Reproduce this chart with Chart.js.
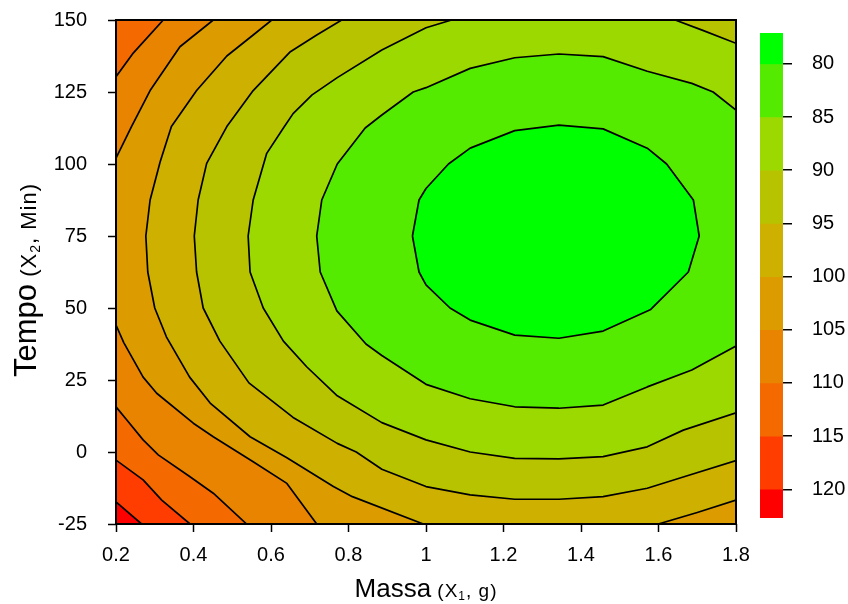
<!DOCTYPE html>
<html><head><meta charset="utf-8">
<script src="https://cdn.jsdelivr.net/npm/chart.js@4.4.1/dist/chart.umd.min.js"></script>
<style>
html,body{margin:0;padding:0;background:#fff;}
#wrap{position:relative;width:848px;height:604px;}
canvas{position:absolute;top:0;}
</style>
</head><body>
<div id="wrap">
<canvas id="main" width="848" height="604" style="left:0"></canvas>
<canvas id="cbar" width="108" height="604" style="left:740px"></canvas>
</div>
<script>
const FONT = "'Liberation Sans', Arial, Helvetica, sans-serif";

// axis ticks
const xTicks = [0.2, 0.4, 0.6, 0.8, 1.0, 1.2, 1.4, 1.6, 1.8];
const yTicks = [-25, 0, 25, 50, 75, 100, 125, 150];
const levelTicks = [80, 85, 90, 95, 100, 105, 110, 115, 120];
const levelEdges = [77.1, 80, 85, 90, 95, 100, 105, 110, 115, 120, 122.7];
const bandColors = ['#00FF00', '#55EB00', '#9BD900', '#B8C300', '#CDB000', '#DC9C00', '#E98400', '#F56A00', '#FF3D00', '#FF0000'];

// contour lines: [Massa, Tempo]
const contour80 = [[0.965,75],[0.982,87.5],[1.0,91.5],[1.058,100],[1.114,105.5],[1.229,111.6],[1.343,113.5],[1.457,112.2],[1.571,105.5],[1.621,100],[1.69,87.5],[1.705,75],[1.677,62.5],[1.58,49.5],[1.457,42],[1.343,39.5],[1.229,40.6],[1.114,45.8],[1.062,50],[1.0,58],[0.982,62.5]];
const contour85 = [[1.8,118.75],[1.741,125],[1.686,128],[1.571,132.2],[1.457,137.3],[1.343,138.2],[1.229,136.9],[1.114,133.2],[1.0,126.5],[0.967,125],[0.886,117],[0.843,112.5],[0.771,100],[0.731,87.5],[0.718,75],[0.727,62.5],[0.77,49],[0.845,37.5],[0.886,33.5],[1.0,23.5],[1.114,18.5],[1.229,15.7],[1.343,15.2],[1.457,16.3],[1.571,22.6],[1.686,28.5],[1.8,36.8]];
const contour90a = [[1.066,150],[1.0,147.3],[0.886,139.6],[0.771,130],[0.706,124],[0.657,117.5],[0.632,112.5],[0.589,103.7],[0.554,87.5],[0.541,75],[0.546,62.5],[0.58,50],[0.632,38.5],[0.692,29.6],[0.771,19.5],[0.886,10.2],[1.0,4.2],[1.114,0],[1.229,-2.2],[1.343,-2.4],[1.457,-1.6],[1.571,1.8],[1.664,7.6],[1.8,13.6]];
const contour90b = [[1.643,150],[1.716,146.3],[1.8,141.9]];
const contour95 = [[0.7825,150],[0.718,144.8],[0.65,139],[0.554,125.5],[0.486,113],[0.434,100.2],[0.412,87.5],[0.402,75],[0.408,62.5],[0.425,50],[0.468,38.5],[0.543,24],[0.657,12],[0.771,3],[0.82,0],[0.886,-6],[1.0,-12],[1.114,-14.9],[1.229,-16.4],[1.343,-16.4],[1.457,-15.5],[1.571,-12.6],[1.67,-8.4],[1.8,-3.0]];
const contour100a = [[0.602,150],[0.554,144.8],[0.486,137.5],[0.408,125.5],[0.343,113],[0.314,100.8],[0.288,87.5],[0.277,75],[0.282,62.5],[0.30,50],[0.33,40],[0.39,26],[0.443,17],[0.546,5.3],[0.641,-2],[0.761,-12],[0.81,-15.5],[0.993,-25]];
const contour100b = [[1.5995,-25],[1.70,-21],[1.8,-16.7]];
const contour105a = [[0.451,150],[0.365,140.7],[0.288,125.5],[0.24,113],[0.2,102]];
const contour105b = [[0.2,44.1],[0.22,38],[0.27,26],[0.305,20.4],[0.3995,10],[0.451,5.3],[0.554,-3.4],[0.641,-10.9],[0.718,-25]];
const contour110a = [[0.322,150],[0.245,138.6],[0.2,130.3]];
const contour110b = [[0.2,15.7],[0.228,11.1],[0.27,4.2],[0.309,-1],[0.391,-8.6],[0.451,-14.3],[0.537,-25]];
const contour115 = [[0.2,-2.8],[0.27,-9.7],[0.318,-16.7],[0.391,-25]];
const contour120 = [[0.2,-17.3],[0.266,-25]];

// axis titles: [text, font size, baseline shift, letter spacing]
const xTitle = [['Massa', 26, 0, 0], [' (X', 19, 0, 1], ['1', 12, 3, 1], [', g)', 19, 0, 1]];
const yTitle = [['Tempo', 31, 0, 0], [' (X', 22, 0, 1], ['2', 14, 4, 1], [', Min)', 22, 0, 1]];

const xMin = xTicks[0], xMax = xTicks[xTicks.length - 1];
const yMin = yTicks[0], yMax = yTicks[yTicks.length - 1];
const TL = [xMin, yMax], TR = [xMax, yMax], BR = [xMax, yMin], BL = [xMin, yMin];

// regions with value below each level (outermost first)
const regions = [
  [TL, TR, BR, BL],
  [TL, ...contour120, BR, TR],
  [TL, ...contour115, BR, TR],
  [...contour110a, ...contour110b, BR, TR],
  [...contour105a, ...contour105b, BR, TR],
  [...contour100a, ...contour100b, TR],
  [...contour95, TR],
  [...contour90a, ...contour90b.slice().reverse()],
  contour85,
  contour80
];
const regionColors = bandColors.slice().reverse();

const datasets = regions.map((poly, i) => ({
  data: poly.concat([poly[0]]).map(p => ({x: p[0], y: p[1]})),
  showLine: true,
  fill: 'shape',
  backgroundColor: regionColors[i],
  borderColor: i === 0 ? 'rgba(0,0,0,0)' : '#000',
  borderWidth: i === 0 ? 0 : 1.7,
  borderJoinStyle: 'round',
  pointRadius: 0,
  pointHoverRadius: 0,
  tension: 0,
  order: regions.length - i
}));

function richText(ctx, parts, cx, cy, rot) {
  ctx.save();
  ctx.translate(cx, cy);
  ctx.rotate(rot);
  let total = 0;
  const ws = parts.map(p => {
    ctx.font = p[1] + 'px ' + FONT;
    ctx.letterSpacing = p[3] + 'px';
    const w = ctx.measureText(p[0]).width;
    total += w; return w;
  });
  let x = -total / 2;
  ctx.fillStyle = '#000';
  ctx.textAlign = 'left';
  ctx.textBaseline = 'alphabetic';
  parts.forEach((p, i) => {
    ctx.font = p[1] + 'px ' + FONT;
    ctx.letterSpacing = p[3] + 'px';
    ctx.fillText(p[0], x, p[2]);
    x += ws[i];
  });
  ctx.restore();
}

const framePlugin = {
  id: 'frame',
  afterDatasetsDraw(chart) {
    const {ctx, chartArea: a} = chart;
    ctx.save();
    ctx.strokeStyle = '#000';
    ctx.lineWidth = 2;
    ctx.strokeRect(a.left, a.top, a.right - a.left, a.bottom - a.top);
    ctx.restore();
  },
  afterDraw(chart) {
    const {ctx, chartArea: a} = chart;
    richText(ctx, xTitle, (a.left + a.right) / 2, 597, 0);
    richText(ctx, yTitle, 36, 280, -Math.PI / 2);
  }
};

const tickFont = {family: FONT, size: 20};

new Chart(document.getElementById('main'), {
  type: 'scatter',
  data: {datasets},
  options: {
    responsive: false,
    animation: false,
    events: [],
    devicePixelRatio: 1,
    layout: {padding: {left: 0, top: 20, right: 112, bottom: 0}},
    plugins: {legend: {display: false}, tooltip: {enabled: false}},
    scales: {
      x: {
        type: 'linear', min: xMin, max: xMax,
        afterBuildTicks: s => { s.ticks = xTicks.map(v => ({value: v})); },
        afterFit: s => { s.height = 80; s.paddingLeft = 0; s.paddingRight = 0; },
        ticks: {font: tickFont, color: '#000', padding: 11, maxRotation: 0, autoSkip: false, callback: v => String(v)},
        grid: {display: true, drawOnChartArea: false, drawTicks: true, tickLength: 8, tickColor: '#000', tickWidth: 1.5},
        border: {display: false}
      },
      y: {
        type: 'linear', min: yMin, max: yMax,
        afterBuildTicks: s => { s.ticks = yTicks.map(v => ({value: v})); },
        afterFit: s => { s.width = 116; s.paddingTop = 0; s.paddingBottom = 0; },
        ticks: {font: tickFont, color: '#000', padding: 21, autoSkip: false, callback: v => String(v)},
        grid: {display: true, drawOnChartArea: false, drawTicks: true, tickLength: 8, tickColor: '#000', tickWidth: 1.5},
        border: {display: false}
      }
    }
  },
  plugins: [framePlugin]
});

// colour bar
new Chart(document.getElementById('cbar'), {
  type: 'bar',
  data: {
    labels: [''],
    datasets: bandColors.map((c, i) => ({
      data: [[levelEdges[i], levelEdges[i + 1]]],
      backgroundColor: c,
      borderWidth: 0,
      grouped: false,
      barPercentage: 1,
      categoryPercentage: 1
    }))
  },
  options: {
    responsive: false,
    animation: false,
    events: [],
    devicePixelRatio: 1,
    layout: {padding: {left: 20, top: 33, right: 0, bottom: 86}},
    plugins: {legend: {display: false}, tooltip: {enabled: false}},
    scales: {
      x: {display: false},
      y: {
        position: 'right', reverse: true,
        min: levelEdges[0], max: levelEdges[levelEdges.length - 1],
        afterBuildTicks: s => { s.ticks = levelTicks.map(v => ({value: v})); },
        afterFit: s => { s.width = 65; s.paddingTop = 0; s.paddingBottom = 0; },
        ticks: {font: tickFont, color: '#000', padding: 20, callback: v => String(v)},
        grid: {display: true, drawOnChartArea: true, drawTicks: true, tickLength: 9, color: '#000', lineWidth: 1.5},
        border: {display: false},
        z: 1
      }
    }
  }
});
</script>
</body></html>
